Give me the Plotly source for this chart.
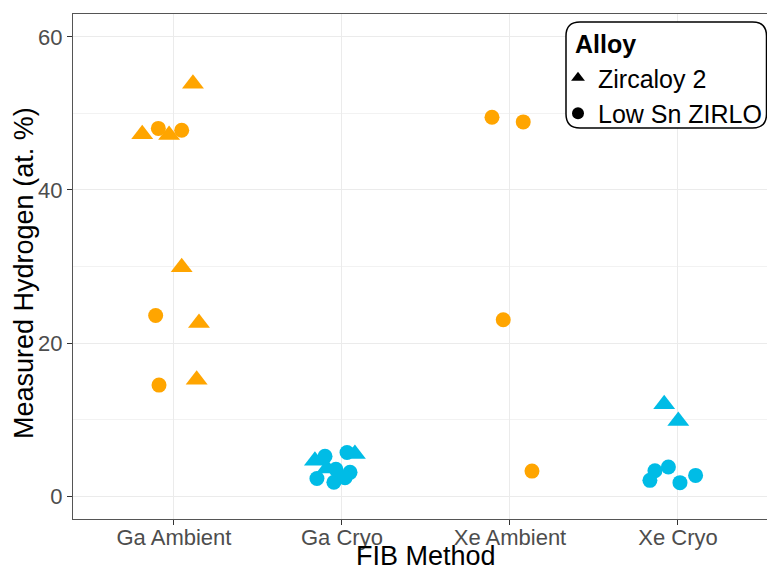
import plotly.graph_objects as go

methods = ["Ga Ambient", "Ga Cryo", "Xe Ambient", "Xe Cryo"]

# Zircaloy 2 (triangles): method, jitter offset, measured hydrogen
zr2_method = ["Ga Ambient"] * 6 + ["Ga Cryo"] * 3 + ["Xe Cryo"] * 2
zr2_jitter = [0.113, -0.189, -0.029, 0.046, 0.149, 0.135, -0.161, 0.077, -0.089, -0.082, 0.002]
zr2_value = [53.9, 47.3, 47.2, 29.9, 22.6, 15.2, 4.6, 5.5, 3.6, 12.0, 9.8]

# Low Sn ZIRLO (circles)
zirlo_method = ["Ga Ambient"] * 4 + ["Ga Cryo"] * 7 + ["Xe Ambient"] * 4 + ["Xe Cryo"] * 5
zirlo_jitter = [-0.093, 0.046, -0.109, -0.089,
                -0.101, 0.030, -0.149, -0.048, 0.048, -0.036, 0.018,
                -0.107, 0.079, -0.040, 0.131,
                -0.167, -0.137, -0.057, 0.012, 0.105]
zirlo_value = [48.05, 47.8, 23.6, 14.5,
               5.2, 5.7, 2.3, 1.8, 3.1, 3.5, 2.4,
               49.5, 48.9, 23.05, 3.26,
               2.05, 3.3, 3.8, 1.75, 2.7]

temp_colors = {"Ambient": "#FFA500", "Cryo": "#00BCE6"}

W, H = 767, 572
ML, MR, MT, MB = 73, 0, 14, 53
PW, PH = W - ML - MR, H - MT - MB


def px_to_paper(px, py):
    return (px - ML) / PW, (H - MB - py) / PH


fig = go.Figure()


def add_series(mlist, jitter, values, symbol, size):
    for temp in ["Ambient", "Cryo"]:
        xs, ys = [], []
        for m, j, v in zip(mlist, jitter, values):
            if m.endswith(temp):
                xs.append(methods.index(m) + j)
                ys.append(v)
        fig.add_trace(go.Scatter(
            x=xs, y=ys, mode="markers", showlegend=False, hoverinfo="skip",
            marker=dict(symbol=symbol, size=size, color=temp_colors[temp],
                        line=dict(width=0))))


add_series(zr2_method, zr2_jitter, zr2_value, "triangle-up", 19)
add_series(zirlo_method, zirlo_jitter, zirlo_value, "circle", 15)

# legend entries (shape only)
fig.add_trace(go.Scatter(x=[None], y=[None], mode="markers", name="Zircaloy 2",
                         marker=dict(symbol="triangle-up", size=16, color="black")))
fig.add_trace(go.Scatter(x=[None], y=[None], mode="markers", name="Low Sn ZIRLO",
                         marker=dict(symbol="circle", size=16, color="black")))

# rounded legend box
x0, y0, x1, y1, r = 566, 22, 766.5, 128, 14
def P(x, y):
    a, b = px_to_paper(x, y)
    return f"{a:.5f},{b:.5f}"
path = (f"M {P(x0 + r, y0)} L {P(x1 - r, y0)} Q {P(x1, y0)} {P(x1, y0 + r)} "
        f"L {P(x1, y1 - r)} Q {P(x1, y1)} {P(x1 - r, y1)} "
        f"L {P(x0 + r, y1)} Q {P(x0, y1)} {P(x0, y1 - r)} "
        f"L {P(x0, y0 + r)} Q {P(x0, y0)} {P(x0 + r, y0)} Z")
fig.add_shape(type="path", path=path, xref="paper", yref="paper",
              line=dict(color="black", width=1.5), fillcolor="white", layer="above")

font_family = "Liberation Sans, Arial, sans-serif"
ax, ay = px_to_paper(573, 44)
fig.add_annotation(text="<b>Alloy</b>", x=ax, y=ay, xref="paper", yref="paper",
                   xanchor="left", yanchor="middle", showarrow=False,
                   font=dict(size=25, color="black", family=font_family))

# axis titles
_, ty = px_to_paper(0, 556)
fig.add_annotation(text="FIB Method", x=px_to_paper(426, 0)[0], y=ty, xref="paper", yref="paper",
                   xanchor="center", yanchor="middle", showarrow=False,
                   font=dict(size=27, color="black", family=font_family))
yx, yy = px_to_paper(24, 273)
fig.add_annotation(text="Measured Hydrogen (at. %)", x=yx, y=yy, xref="paper", yref="paper",
                   xanchor="center", yanchor="middle", textangle=-90, showarrow=False,
                   font=dict(size=27, color="black", family=font_family))

lx, ly = px_to_paper(558, 55)
fig.update_layout(
    width=W, height=H,
    margin=dict(l=ML, r=MR, t=MT, b=MB, pad=0),
    paper_bgcolor="white", plot_bgcolor="white",
    font=dict(family=font_family),
    legend=dict(x=lx, y=ly, xanchor="left", yanchor="top",
                bgcolor="rgba(0,0,0,0)", borderwidth=0,
                font=dict(size=25, color="black", family=font_family),
                itemsizing="constant", tracegroupgap=0),
    xaxis=dict(range=[-0.601, 3.530], tickmode="array", tickvals=list(range(len(methods))),
               ticktext=methods, showgrid=True, gridcolor="#EBEBEB", gridwidth=1.2,
               zeroline=False, showline=True, mirror=True, linecolor="#555555", linewidth=1,
               ticks="outside", ticklen=5, tickcolor="#333333", tickwidth=1,
               ticklabelstandoff=-6,
               tickfont=dict(size=22, color="#4D4D4D", family=font_family)),
    yaxis=dict(range=[-3, 63], tickmode="array", tickvals=[0, 20, 40, 60],
               showgrid=True, gridcolor="#EBEBEB", gridwidth=1.2,
               minor=dict(tickmode="array", tickvals=[10, 30, 50], showgrid=True,
                          gridcolor="#F2F2F2", gridwidth=0.7, ticks=""),
               zeroline=False, showline=True, mirror=False, linecolor="#555555", linewidth=1,
               ticks="outside", ticklen=5, tickcolor="#333333", tickwidth=1,
               tickfont=dict(size=22, color="#4D4D4D", family=font_family)),
)

fig.write_html("out.html")
